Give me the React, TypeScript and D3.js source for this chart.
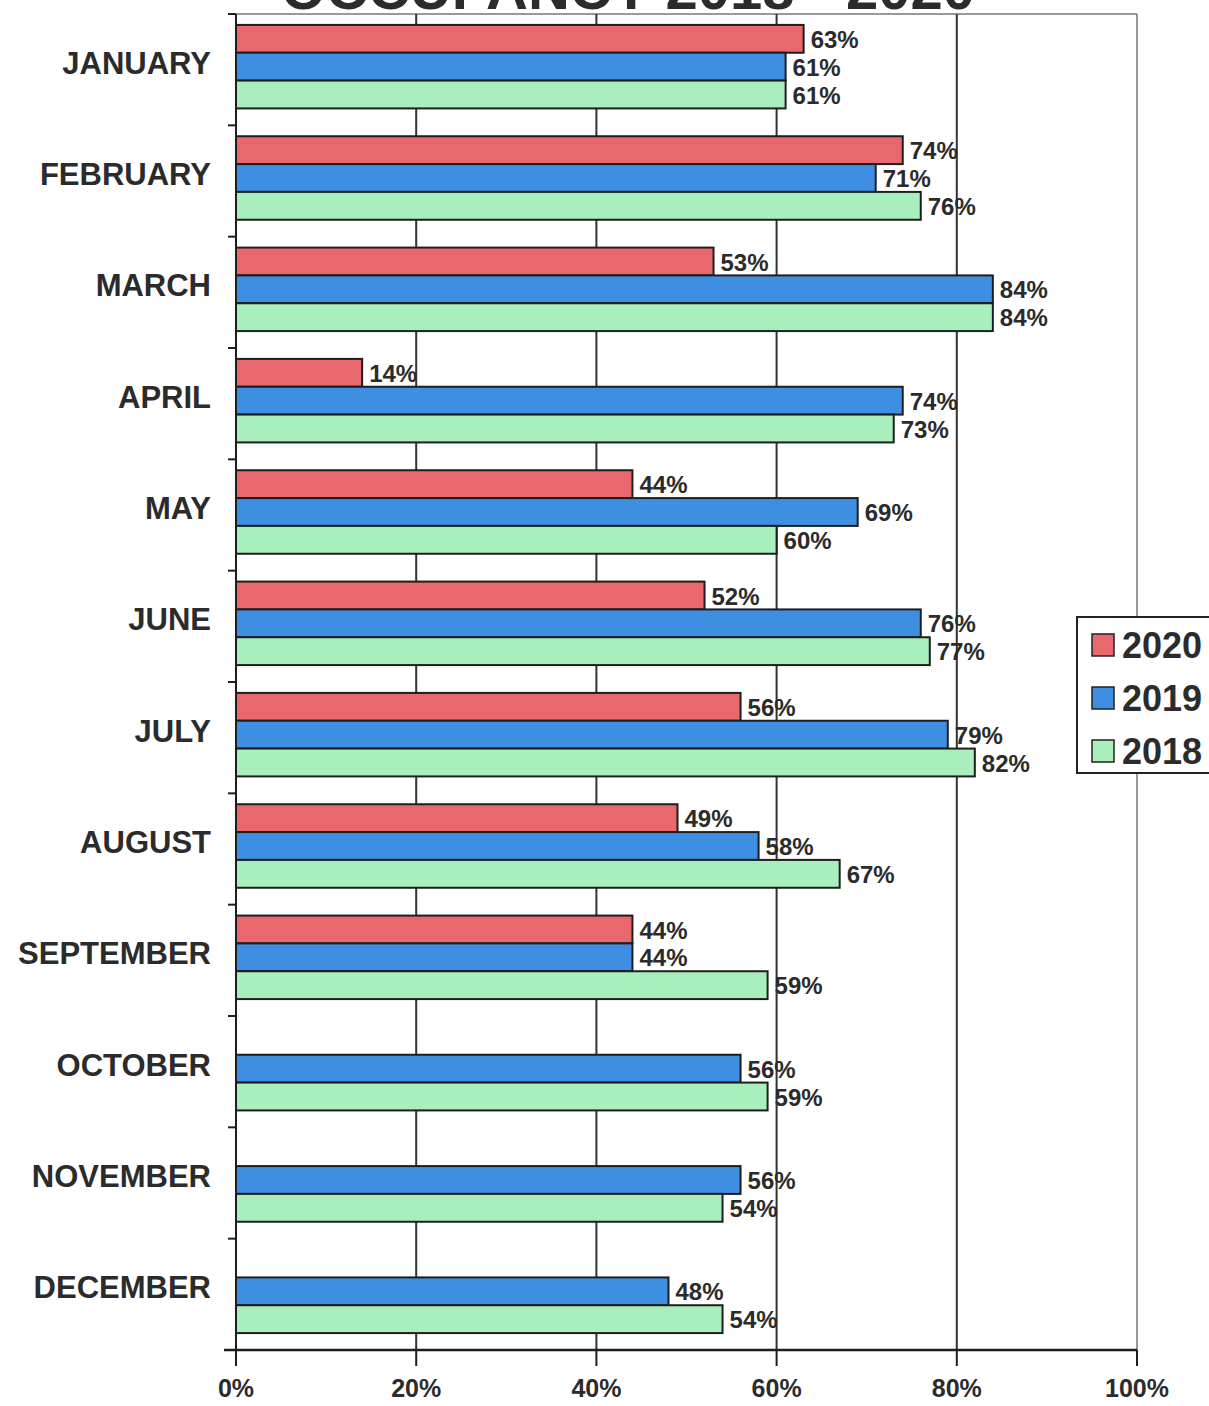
import * as d3 from "d3";

const MONTHS = [
  "JANUARY", "FEBRUARY", "MARCH", "APRIL", "MAY", "JUNE",
  "JULY", "AUGUST", "SEPTEMBER", "OCTOBER", "NOVEMBER", "DECEMBER",
];
const YEARS = ["2020", "2019", "2018"];
const V2020 = [63, 74, 53, 14, 44, 52, 56, 49, 44, null, null, null];
const V2019 = [61, 71, 84, 74, 69, 76, 79, 58, 44, 56, 56, 48];
const V2018 = [61, 76, 84, 73, 60, 77, 82, 67, 59, 59, 54, 54];
const X_TICKS = [0, 20, 40, 60, 80, 100];

const COLORS = ["#e9686e", "#3e8ee2", "#a9efbd"];
const WIDTH = 1209;
const HEIGHT = 1406;
const PLOT = { left: 236, right: 1137, top: 14, bottom: 1350 };
const FONT = "'Liberation Sans', Arial, sans-serif";
const INK = "#2b2b2b";

export default function App() {
  const series = [V2020, V2019, V2018];

  const x = d3.scaleLinear().domain([0, 100]).range([PLOT.left, PLOT.right]);
  const y = d3.scaleBand().domain(MONTHS).range([PLOT.top, PLOT.bottom]).paddingInner(0.25).paddingOuter(0.125);
  const inner = d3.scaleBand().domain(YEARS).range([0, y.bandwidth()]);
  const step = y.step();

  return (
    <svg width={WIDTH} height={HEIGHT} style={{ position: "absolute", left: 0, top: 0, background: "#fff" }}>
      {/* title, mostly cut off at the top as in the scan */}
      <text x={628} y={9} textAnchor="middle" fontFamily={FONT} fontWeight="bold" fontSize={58} fill={INK}>
        OCCUPANCY 2018 - 2020
      </text>

      {/* frame */}
      <line x1={PLOT.left} x2={PLOT.right} y1={PLOT.top} y2={PLOT.top} stroke="#777" strokeWidth={1.5} />
      <line x1={PLOT.right} x2={PLOT.right} y1={PLOT.top} y2={PLOT.bottom} stroke="#777" strokeWidth={1.5} />

      {/* vertical grid */}
      {X_TICKS.slice(1, -1).map((t) => (
        <line key={t} x1={x(t)} x2={x(t)} y1={PLOT.top} y2={PLOT.bottom} stroke="#333" strokeWidth={2} />
      ))}

      {/* bars */}
      {MONTHS.map((m, i) =>
        series.map((s, j) => {
          const v = s[i];
          if (v == null) return null;
          const by = (y(m) ?? 0) + (inner(YEARS[j]) ?? 0) - 3;
          const bh = inner.bandwidth();
          return (
            <g key={`${i}_${j}`}>
              <rect x={x(0)} y={by} width={x(v) - x(0)} height={bh} fill={COLORS[j]} stroke="#1e1e1e" strokeWidth={2} />
              <text x={x(v) + 7} y={by + bh / 2 + 9} fontFamily={FONT} fontWeight="bold" fontSize={24} fill={INK}>
                {v}%
              </text>
            </g>
          );
        })
      )}

      {/* y axis */}
      <line x1={PLOT.left} x2={PLOT.left} y1={PLOT.top} y2={PLOT.bottom} stroke="#1e1e1e" strokeWidth={2} />
      {d3.range(MONTHS.length + 1).map((k) => (
        <line key={k} x1={PLOT.left - 8} x2={PLOT.left} y1={PLOT.top + k * step} y2={PLOT.top + k * step} stroke="#1e1e1e" strokeWidth={2} />
      ))}
      {MONTHS.map((m) => (
        <text key={m} x={PLOT.left - 25} y={(y(m) ?? 0) - step * 0.125 + step / 2 + 4} textAnchor="end" fontFamily={FONT} fontWeight="bold" fontSize={31} fill={INK}>
          {m}
        </text>
      ))}

      {/* x axis */}
      <line x1={PLOT.left - 12} x2={PLOT.right} y1={PLOT.bottom} y2={PLOT.bottom} stroke="#1e1e1e" strokeWidth={2.5} />
      {X_TICKS.map((t) => (
        <g key={t}>
          <line x1={x(t)} x2={x(t)} y1={PLOT.bottom} y2={PLOT.bottom + 16} stroke="#1e1e1e" strokeWidth={2} />
          <text x={x(t)} y={PLOT.bottom + 47} textAnchor="middle" fontFamily={FONT} fontWeight="bold" fontSize={25} fill={INK}>
            {t}%
          </text>
        </g>
      ))}

      {/* legend */}
      <rect x={1077} y={617} width={150} height={156} fill="#fff" stroke="#222" strokeWidth={2} />
      {YEARS.map((yr, j) => (
        <g key={yr} transform={`translate(1092, ${634 + j * 53})`}>
          <rect x={0} y={0} width={22} height={22} fill={COLORS[j]} stroke="#222" strokeWidth={1.5} />
          <text x={30} y={24} fontFamily={FONT} fontWeight="bold" fontSize={36} fill={INK}>
            {yr}
          </text>
        </g>
      ))}
    </svg>
  );
}
